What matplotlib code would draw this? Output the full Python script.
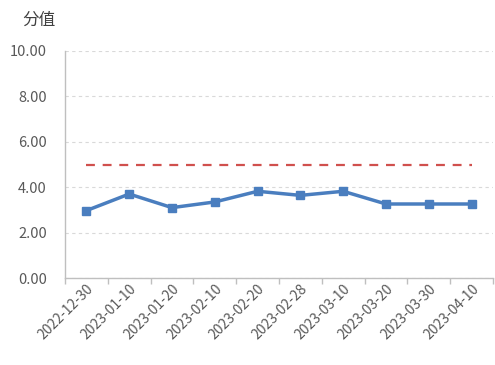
import numpy as np
import matplotlib
matplotlib.use("Agg")
import matplotlib.pyplot as plt

plt.rcParams['font.family'] = ['Noto Sans CJK SC', 'DejaVu Sans']

dates = ["2022-12-30", "2023-01-10", "2023-01-20", "2023-02-10", "2023-02-20",
         "2023-02-28", "2023-03-10", "2023-03-20", "2023-03-30", "2023-04-10"]
scores = [2.97, 3.70, 3.10, 3.35, 3.82, 3.64, 3.82, 3.26, 3.26, 3.26]
threshold = [5.0] * len(dates)

fig = plt.figure(figsize=(4.95, 3.65), dpi=100)
ax = fig.add_axes([65 / 495, 1 - 278 / 365, 428 / 495, 227 / 365])

x = np.arange(len(dates))
ax.plot(x, threshold, color="#D0504D", lw=1.6, dashes=(4, 3.5))
ax.plot(x, scores, color="#4A7EBF", lw=2.5, marker="s", markersize=6)

ax.set_xlim(-0.5, len(dates) - 0.5)
ax.set_ylim(0, 10)
ax.set_yticks(np.arange(0, 10.01, 2))
ax.set_yticklabels(["%.2f" % v for v in np.arange(0, 10.01, 2)])
ax.set_xticks(x)
ax.set_xticklabels(dates, rotation=45, ha="right", va="top", rotation_mode="anchor")
ax.set_xticks(np.arange(-0.5, len(dates), 1), minor=True)

ax.tick_params(axis="x", which="major", length=0, pad=3, labelsize=10, labelcolor="#595959")
ax.tick_params(axis="x", which="minor", length=4, color="#BFBFBF", width=1)
ax.tick_params(axis="y", length=0, pad=13, labelsize=10.5, labelcolor="#595959")

ax.grid(axis="y", color="#D9D9D9", ls=(0, (3, 3)), lw=0.8)
ax.set_axisbelow(True)
for side in ["top", "right"]:
    ax.spines[side].set_visible(False)
for side in ["left", "bottom"]:
    ax.spines[side].set_color("#BFBFBF")
    ax.spines[side].set_linewidth(1)

fig.text(39 / 495, 1 - 20 / 365, "分值", fontsize=12, color="#404040", ha="center", va="center")

fig.savefig("out.png", dpi=100)
